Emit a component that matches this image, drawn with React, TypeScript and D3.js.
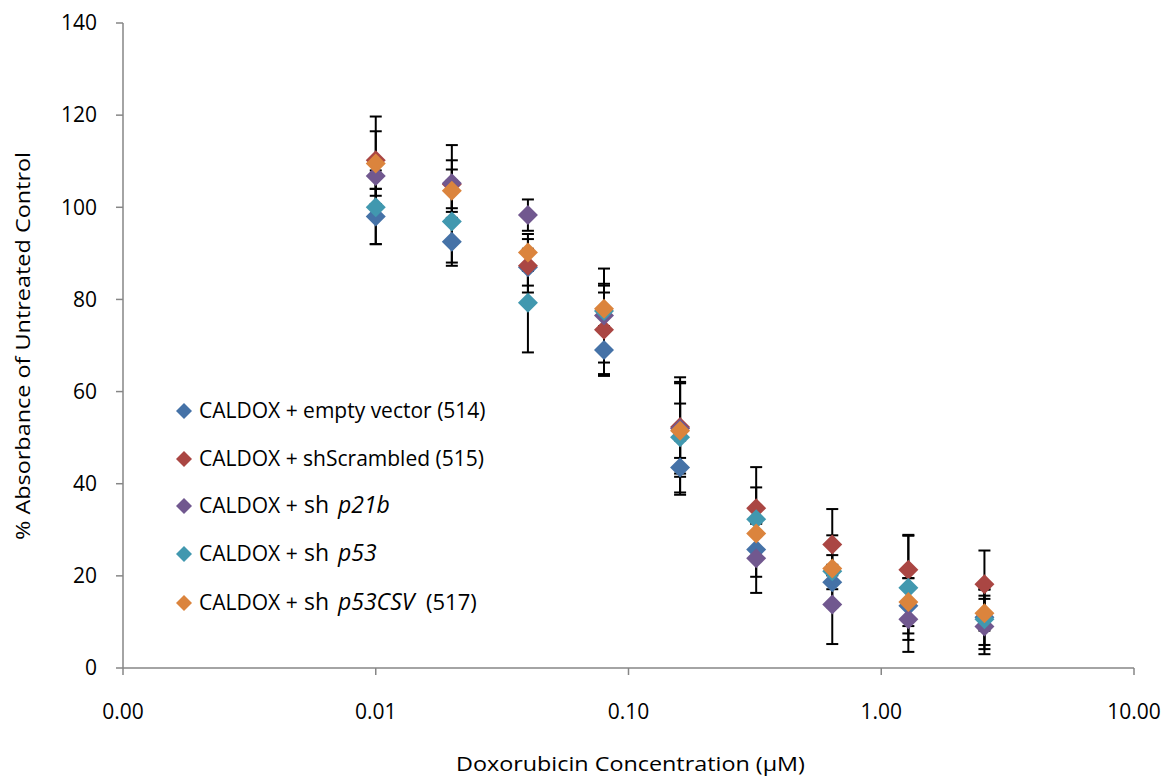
import React from "react";
import * as d3 from "d3";

const concentrations = [0.01, 0.02, 0.04, 0.08, 0.16, 0.32, 0.64, 1.28, 2.56];

const emptyVector = [98, 92.5, 87, 69, 43.5, 25.7, 18.6, 13.5, 11];
const emptyVectorErr = [6, 5.2, 4, 5.2, 5.9, 5.9, 1.5, 6, 6];
const shScrambled = [110.2, 105, 87.3, 73.4, 52.3, 34.7, 26.8, 21.3, 18.2];
const shScrambledErr = [9.5, 5.2, 5.8, 10, 10.8, 8.9, 7.7, 7.6, 7.3];
const shP21b = [106.8, 105.2, 98.3, 76.5, 52, 23.8, 13.8, 10.6, 9];
const shP21bErr = [2.8, 8.3, 3.4, 10.2, 9.8, 7.5, 8.6, 7.1, 6];
const shP53 = [100, 96.9, 79.3, 77.5, 50.1, 32.3, 21, 17.4, 10.6];
const shP53Err = [8, 8.9, 10.8, 4, 12, 6.9, 7.8, 11.3, 6.5];
const shP53CSV = [109.5, 103.6, 90.2, 78, 51.5, 29.2, 21.6, 14.3, 11.9];
const shP53CSVErr = [7, 4.6, 4, 5, 5.9, 3, 2.9, 5.2, 3.8];

const xTicks = [0.001, 0.01, 0.1, 1, 10];
const yTicks = [0, 20, 40, 60, 80, 100, 120, 140];

const seriesNames = [
  ["CALDOX + empty vector (514)", "", ""],
  ["CALDOX + shScrambled (515)", "", ""],
  ["CALDOX +", "p21b", ""],
  ["CALDOX +", "p53", ""],
  ["CALDOX +", "p53CSV", "(517)"],
];
const seriesColors = ["#4572A7", "#AA4643", "#71588F", "#4198AF", "#DB843D"];

const series = [
  { values: emptyVector, errors: emptyVectorErr },
  { values: shScrambled, errors: shScrambledErr },
  { values: shP21b, errors: shP21bErr },
  { values: shP53, errors: shP53Err },
  { values: shP53CSV, errors: shP53CSVErr },
];

const W = 1175;
const H = 776;
const FONT = "'Open Sans', sans-serif";

export default function App() {
  const x = d3.scaleLog().domain([0.001, 10]).range([123, 1134]);
  const y = d3.scaleLinear().domain([0, 140]).range([668, 23]);
  const diamond = (cx: number, cy: number, r: number) =>
    `M${cx},${cy - r}L${cx + r},${cy}L${cx},${cy + r}L${cx - r},${cy}Z`;
  const capW = 6;
  const legendY = [411, 459, 506, 554, 603];

  return (
    <svg
      width={W}
      height={H}
      style={{ position: "absolute", left: 0, top: 0, background: "#fff" }}
      fontFamily={FONT}
    >
      {/* axes */}
      <line x1={x(0.001)} x2={x(0.001)} y1={y(140)} y2={y(0)} stroke="#868686" strokeWidth={1.5} />
      <line x1={x(0.001)} x2={x(10)} y1={y(0)} y2={y(0)} stroke="#868686" strokeWidth={1.5} />
      {yTicks.map((t) => (
        <g key={"y" + t}>
          <line x1={x(0.001) - 7} x2={x(0.001)} y1={y(t)} y2={y(t)} stroke="#868686" strokeWidth={1.5} />
          <text x={97} y={y(t)} dy="0.35em" textAnchor="end" fontSize={21} fill="#000">
            {t}
          </text>
        </g>
      ))}
      {xTicks.map((t) => (
        <g key={"x" + t}>
          <line x1={x(t)} x2={x(t)} y1={y(0)} y2={y(0) + 7} stroke="#868686" strokeWidth={1.5} />
          <text x={x(t)} y={y(0) + 51} textAnchor="middle" fontSize={21} fill="#000">
            {d3.format(".2f")(t)}
          </text>
        </g>
      ))}
      <text
        x={456}
        y={771}
        fontSize={20}
        fill="#000"
        textLength={349}
        lengthAdjust="spacingAndGlyphs"
      >
        Doxorubicin Concentration (µM)
      </text>
      <text
        transform={`translate(30,540) rotate(-90)`}
        fontSize={20}
        fill="#000"
        textLength={388}
        lengthAdjust="spacingAndGlyphs"
      >
        % Absorbance of Untreated Control
      </text>

      {/* error bars */}
      {series.map((s, si) =>
        s.values.map((v, i) => {
          const cx = x(concentrations[i]);
          const top = y(v + s.errors[i]);
          const bot = y(v - s.errors[i]);
          return (
            <g key={`e${si}-${i}`} stroke="#000" strokeWidth={2}>
              <line x1={cx} x2={cx} y1={top} y2={bot} />
              <line x1={cx - capW} x2={cx + capW} y1={top} y2={top} />
              <line x1={cx - capW} x2={cx + capW} y1={bot} y2={bot} />
            </g>
          );
        })
      )}

      {/* markers */}
      {series.map((s, si) =>
        s.values.map((v, i) => (
          <path
            key={`m${si}-${i}`}
            d={diamond(x(concentrations[i]), y(v), 10)}
            fill={seriesColors[si]}
          />
        ))
      )}

      {/* legend */}
      {seriesNames.map((n, i) => (
        <g key={"l" + i}>
          <path d={diamond(184, legendY[i], 8)} fill={seriesColors[i]} />
          <text x={199} y={legendY[i]} dy="0.35em" fontSize={21} fill="#000">
            {n[1] === "" ? (
              n[0]
            ) : (
              <>
                {n[0]}
                <tspan x={304} fontSize={23}>sh</tspan>
                <tspan x={338} fontStyle="italic" fontSize={23}>
                  {n[1]}
                </tspan>
                {n[2] !== "" && (
                  <tspan x={426} fontSize={22}>
                    {n[2]}
                  </tspan>
                )}
              </>
            )}
          </text>
        </g>
      ))}
    </svg>
  );
}
